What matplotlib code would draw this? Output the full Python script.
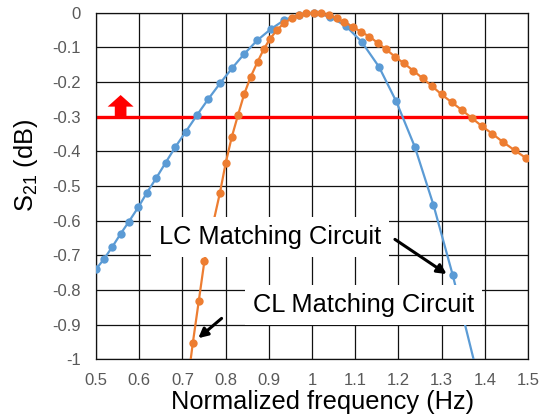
import matplotlib
matplotlib.use("Agg")
import matplotlib.pyplot as plt
from matplotlib.patches import Rectangle, Polygon

plt.rcParams['font.family'] = ['Liberation Sans', 'DejaVu Sans']
plt.rcParams['mathtext.fontset'] = 'custom'
plt.rcParams['mathtext.rm'] = 'Liberation Sans'
plt.rcParams['mathtext.it'] = 'Liberation Sans:italic'

# ---- data ----
lc_x = [0.500, 0.519, 0.538, 0.557, 0.576, 0.598, 0.618, 0.639, 0.661, 0.684,
        0.708, 0.734, 0.760, 0.787, 0.815, 0.843, 0.873, 0.904, 0.936, 0.970,
        1.005, 1.042, 1.078, 1.115, 1.155, 1.195, 1.238, 1.281, 1.326, 1.380]
lc_y = [-0.740, -0.710, -0.675, -0.638, -0.603, -0.561, -0.519, -0.478, -0.433, -0.387,
        -0.343, -0.295, -0.249, -0.204, -0.160, -0.119, -0.080, -0.048, -0.021, -0.006,
        0.000, -0.012, -0.038, -0.084, -0.156, -0.256, -0.387, -0.554, -0.758, -1.030]

cl_x = [0.711, 0.724, 0.738, 0.751, 0.769, 0.787, 0.800, 0.814, 0.829, 0.843,
        0.858, 0.874, 0.888, 0.903, 0.919, 0.935, 0.953, 0.970, 0.987, 1.004,
        1.020, 1.039, 1.057, 1.075, 1.094, 1.113, 1.133, 1.152, 1.172, 1.192,
        1.213, 1.234, 1.256, 1.278, 1.300, 1.323, 1.347, 1.370, 1.394, 1.417,
        1.442, 1.469, 1.495]
cl_y = [-1.080, -0.954, -0.831, -0.716, -0.620, -0.519, -0.435, -0.360, -0.294, -0.235,
        -0.185, -0.142, -0.106, -0.075, -0.050, -0.030, -0.016, -0.007, -0.002, 0.000,
        -0.002, -0.007, -0.016, -0.028, -0.040, -0.055, -0.069, -0.087, -0.106, -0.127,
        -0.146, -0.167, -0.189, -0.212, -0.236, -0.258, -0.281, -0.304, -0.328, -0.349,
        -0.373, -0.397, -0.419]

x_ticks = [0.5, 0.6, 0.7, 0.8, 0.9, 1.0, 1.1, 1.2, 1.3, 1.4, 1.5]
x_tick_labels = ['0.5', '0.6', '0.7', '0.8', '0.9', '1', '1.1', '1.2', '1.3', '1.4', '1.5']
y_ticks = [0, -0.1, -0.2, -0.3, -0.4, -0.5, -0.6, -0.7, -0.8, -0.9, -1.0]
y_tick_labels = ['0', '-0.1', '-0.2', '-0.3', '-0.4', '-0.5', '-0.6', '-0.7', '-0.8', '-0.9', '-1']

threshold = -0.3
arrow_x = 0.557
arrow_tip = -0.2375
arrow_head_base = -0.271
arrow_head_half = 0.03
arrow_shaft_half = 0.0135

lc_label = 'LC Matching Circuit'
cl_label = 'CL Matching Circuit'
lc_text_pos = (0.903, -0.647)
lc_arrow_tail = (1.192, -0.654)
lc_arrow_tip = (1.3116, -0.754)
cl_text_pos = (1.119, -0.843)
cl_arrow_tail = (0.7907, -0.882)
cl_arrow_tip = (0.7368, -0.939)

BLUE = '#5B9BD5'
ORANGE = '#ED7D31'

fig = plt.figure(figsize=(5.41, 4.20), dpi=100)
ax = fig.add_axes([96 / 541, 1 - 359.3 / 420, 432 / 541, 346.6 / 420])

ax.set_xlim(0.5, 1.5)
ax.set_ylim(-1.0, 0.0)

# grid
ax.set_xticks(x_ticks)
ax.set_xticklabels(x_tick_labels)
ax.set_yticks(y_ticks)
ax.set_yticklabels(y_tick_labels)
ax.grid(True, color='#111111', linewidth=0.9, zorder=0)
ax.set_axisbelow(True)
for s in ax.spines.values():
    s.set_color('#111111')
    s.set_linewidth(0.9)
ax.tick_params(length=0, labelsize=12, labelcolor='#595959')
ax.tick_params(axis='x', pad=10)
ax.tick_params(axis='y', pad=11)

# threshold line and arrow
ax.axhline(threshold, color='#FF0000', linewidth=2.4, zorder=2)
arrow_pts = [
    (arrow_x - arrow_shaft_half, threshold),
    (arrow_x - arrow_shaft_half, arrow_head_base),
    (arrow_x - arrow_head_half, arrow_head_base),
    (arrow_x, arrow_tip),
    (arrow_x + arrow_head_half, arrow_head_base),
    (arrow_x + arrow_shaft_half, arrow_head_base),
    (arrow_x + arrow_shaft_half, threshold),
]
ax.add_patch(Polygon(arrow_pts, closed=True, facecolor='#FF0000', edgecolor='none', zorder=2))

# series
clip_rect = Rectangle((0, 0), 1, 1.1, transform=ax.transAxes, visible=False)
ax.add_patch(clip_rect)
l1, = ax.plot(lc_x, lc_y, color=BLUE, linewidth=1.6, marker='o', markersize=6,
              markeredgewidth=0, zorder=3)
l2, = ax.plot(cl_x, cl_y, color=ORANGE, linewidth=1.6, marker='o', markersize=6,
              markeredgewidth=0, zorder=4)
for ln in (l1, l2):
    ln.set_clip_path(clip_rect)

# labels with white boxes
box = dict(boxstyle='square,pad=0.32', facecolor='white', edgecolor='none')
ax.text(*lc_text_pos, lc_label, fontsize=18.3, ha='center', va='center', bbox=box, zorder=5)
ax.text(*cl_text_pos, cl_label, fontsize=18.3, ha='center', va='center', bbox=box, zorder=5)

arrowprops = dict(arrowstyle='-|>,head_length=0.55,head_width=0.28', color='black',
                  linewidth=2.2, shrinkA=0, shrinkB=0)
ax.annotate('', xy=lc_arrow_tip, xytext=lc_arrow_tail, arrowprops=arrowprops, zorder=6)
ax.annotate('', xy=cl_arrow_tip, xytext=cl_arrow_tail, arrowprops=arrowprops, zorder=6)

ax.set_xlabel('Normalized frequency (Hz)', fontsize=18.3, color='black', va='center')
ax.set_ylabel('S$_{\\mathregular{21}}$ (dB)', fontsize=18.3, color='black', va='center')
ax.xaxis.set_label_coords(0.525, -0.123)
ax.yaxis.set_label_coords(-0.161, 0.56)

fig.savefig('out.png', dpi=100)
